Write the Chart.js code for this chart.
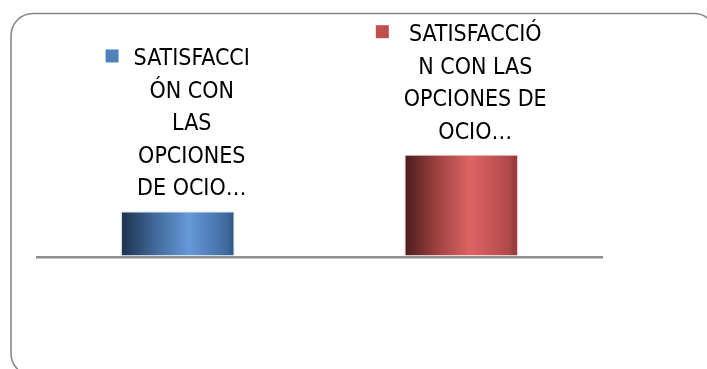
<!DOCTYPE html>
<html>
<head>
<meta charset="utf-8">
<script src="https://cdn.jsdelivr.net/npm/chart.js@4.4.1/dist/chart.umd.min.js"></script>
<style>
  html, body { margin: 0; padding: 0; background: #fff; }
  #wrap { width: 707px; height: 369px; position: relative; }
</style>
</head>
<body>
<div id="wrap"><canvas id="ocioChart"></canvas></div>
<script>
// two categories, one bar each
const categories = ['Satisfecho', 'Insatisfecho'];
const serieA = [4, null];
const serieB = [null, 9];
// the series names, wrapped the way they show above each bar
const labelA = ['SATISFACCI', 'ÓN CON', 'LAS', 'OPCIONES', 'DE OCIO…'];
const labelB = ['SATISFACCIÓ', 'N CON LAS', 'OPCIONES DE', 'OCIO…'];

const BAR_PCT = 0.4;

// cylinder-like shading across each bar
function barFill(stops) {
    return function(c) {
        const chart = c.chart;
        const xs = chart.scales.x;
        if (!xs || !chart.chartArea) return stops[2][1];
        const cx = xs.getPixelForValue(c.dataIndex);
        const w = xs.width / categories.length * BAR_PCT;
        const g = chart.ctx.createLinearGradient(cx - w / 2, 0, cx + w / 2, 0);
        stops.forEach(s => g.addColorStop(s[0], s[1]));
        return g;
    };
}

const blueStops = [[0, '#1c314b'], [0.3, '#41699a'], [0.6, '#6699d8'], [0.93, '#3f6a9f'], [1, '#2f557f']];
const redStops = [[0, '#4a1c1c'], [0.3, '#a24343'], [0.58, '#de6464'], [0.92, '#b04949'], [1, '#8a3535']];

// rounded frame around the whole chart
const framePlugin = {
    id: 'frame',
    beforeDraw(chart) {
        const ctx = chart.ctx;
        ctx.save();
        ctx.strokeStyle = '#888888';
        ctx.lineWidth = 1.6;
        ctx.beginPath();
        ctx.roundRect(11, 13.5, 705, 362, 22);
        ctx.stroke();
        ctx.restore();
    }
};

// series name with its colour key above every bar
const nameLabels = {
    id: 'nameLabels',
    afterDatasetsDraw(chart) {
        const ctx = chart.ctx;
        const lineH = 32.5;
        const key = 13;
        const gap = 15;
        ctx.save();
        ctx.font = '23px "Liberation Sans Narrow", "DejaVu Sans Condensed", sans-serif';
        ctx.textAlign = 'center';
        ctx.textBaseline = 'alphabetic';
        chart.data.datasets.forEach((ds, di) => {
            const meta = chart.getDatasetMeta(di);
            meta.data.forEach((bar, i) => {
                if (ds.data[i] == null) return;
                const lines = ds.nameLines;
                const textW = Math.max(...lines.map(l => ctx.measureText(l).width));
                const left = bar.x - (key + gap + textW) / 2;
                const tx = left + key + gap + textW / 2;
                const lastBase = bar.y - 16;
                const firstBase = lastBase - (lines.length - 1) * lineH;
                ctx.fillStyle = ds.keyColor;
                ctx.fillRect(left, firstBase - 16, key, key);
                ctx.fillStyle = '#000';
                lines.forEach((l, k) => ctx.fillText(l, tx, firstBase + k * lineH));
            });
        });
        ctx.restore();
    }
};

new Chart(document.getElementById('ocioChart'), {
    type: 'bar',
    data: {
        labels: categories,
        datasets: [{
            label: labelA.join(''),
            data: serieA,
            nameLines: labelA,
            keyColor: '#4f81bd',
            backgroundColor: barFill(blueStops),
            borderColor: 'rgba(190,205,225,0.9)',
            borderWidth: { top: 1, left: 1, right: 1, bottom: 0 },
            barPercentage: BAR_PCT,
            categoryPercentage: 1
        }, {
            label: labelB.join(''),
            data: serieB,
            nameLines: labelB,
            keyColor: '#c0504d',
            backgroundColor: barFill(redStops),
            borderColor: 'rgba(235,190,190,0.9)',
            borderWidth: { top: 1, left: 1, right: 1, bottom: 0 },
            barPercentage: BAR_PCT,
            categoryPercentage: 1
        }]
    },
    options: {
        responsive: true,
        maintainAspectRatio: false,
        animation: false,
        layout: { padding: { top: 132, bottom: 10, left: 36, right: 104 } },
        scales: {
            x: { display: false, stacked: true },
            y: {
                stacked: true,
                min: -9,
                max: 11,
                border: { display: false },
                ticks: { display: false },
                grid: {
                    drawTicks: false,
                    color: c => c.tick && c.tick.value === 0 ? '#8e8e8e' : 'rgba(0,0,0,0)',
                    lineWidth: c => c.tick && c.tick.value === 0 ? 2.5 : 0
                }
            }
        },
        plugins: {
            legend: { display: false },
            tooltip: { enabled: false }
        }
    },
    plugins: [framePlugin, nameLabels]
});
</script>
</body>
</html>
